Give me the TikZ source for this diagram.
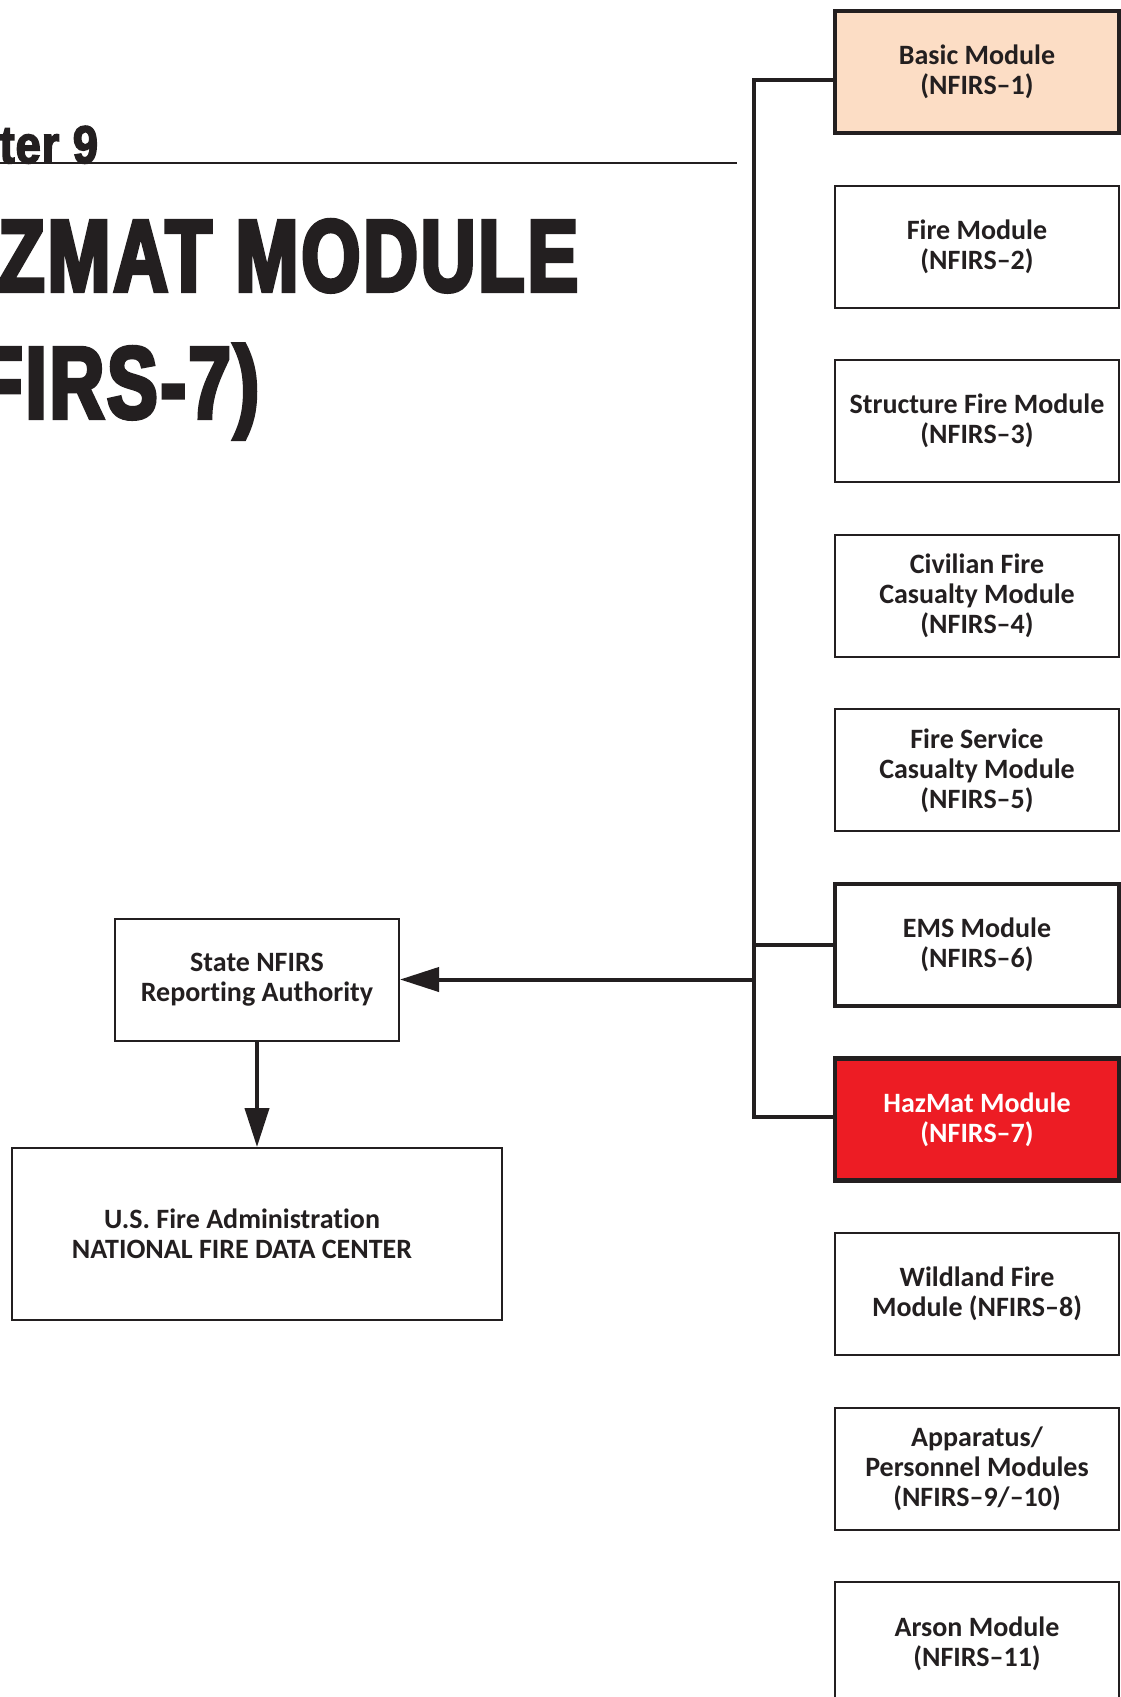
\documentclass[tikz,border=0pt]{standalone}
\usepackage{fontspec}
\usepackage{tikz}
\usetikzlibrary{arrows.meta}

\setmainfont[Ligatures={TeX,NoCommon}]{Carlito}
\newfontfamily\headfont[FakeStretch=0.74,FakeBold=4,LetterSpace=3]{Liberation Sans}
\newfontfamily\chapfont[FakeStretch=0.85,FakeBold=3,LetterSpace=2]{Liberation Sans}

\definecolor{ink}{HTML}{231F20}
\definecolor{peach}{HTML}{FCDDC5}
\definecolor{hazred}{HTML}{ED1C24}

\begin{document}
\begin{tikzpicture}[
            x = 1pt, y = -1pt, % page pixels, origin top left
            > = {Triangle[length=39pt,width=24pt]}, % arrow head style
            node distance = 174.6pt, % distance between module boxes
            line width = 4pt, % connector style
            color = ink
        ]

        \tikzstyle{module}=[
            draw = ink,
            line width = 2pt,
            fill = white,
            text = ink,
            minimum width = 284pt,
            minimum height = 122pt,
            inner sep = 0pt,
            align = center,
            font = \fontsize{28}{30}\selectfont\bfseries
        ]
        \tikzstyle{heavy}=[module, line width = 4.5pt]
        \tikzstyle{title}=[inner sep = 0pt, anchor = base east, text = ink]

        \useasboundingbox (0,0) rectangle (1121,1697);
        \clip (0,0) rectangle (1121,1697);
        \fill[white] (0,0) rectangle (1121,1697);

        % heading
        \node[title, font = \chapfont\bfseries\fontsize{53}{53}\selectfont] (chapter) at (100,163) {Chapter 9};
        \draw[line width = 2.5pt] (0,163) -- (737,163);
        \node[title, font = \headfont\bfseries\fontsize{102}{102}\selectfont] (heading) at (580,291) {HAZMAT MODULE};
        \node[title, font = \headfont\bfseries\fontsize{102}{102}\selectfont] (subheading) at (261,418) {(NFIRS-7)};

        % modules
        \node[heavy, fill = peach] (basic) at (977,72) {Basic Module\\(NFIRS–1)};
        \node[module] (fire) [below of=basic] {Fire Module\\(NFIRS–2)};
        \node[module] (structure) [below of=fire] {Structure Fire Module\\(NFIRS–3)};
        \node[module] (civilian) [below of=structure] {Civilian Fire\\Casualty Module\\(NFIRS–4)};
        \node[module] (service) [below of=civilian] {Fire Service\\Casualty Module\\(NFIRS–5)};
        \node[heavy] (ems) [below of=service] {EMS Module\\(NFIRS–6)};
        \node[heavy, fill = hazred, text = white] (hazmat) [below of=ems] {HazMat Module\\(NFIRS–7)};
        \node[module] (wildland) [below of=hazmat] {Wildland Fire\\Module (NFIRS–8)};
        \node[module] (apparatus) [below of=wildland] {Apparatus/\\Personnel Modules\\(NFIRS–9/–10)};
        \node[module] (arson) [below of=apparatus] {Arson Module\\(NFIRS–11)};

        % reporting chain
        \node[module] (state) at (257,979.5) {State NFIRS\\Reporting Authority};
        \node[module, minimum width = 490pt, minimum height = 172pt] (usfa) at (257,1234) {};
        \node[font = \fontsize{28}{30}\selectfont\bfseries, align = center, text = ink] (usfa text)
            at ([xshift = -15pt]usfa.center) {U.S. Fire Administration\\NATIONAL FIRE DATA CENTER};

        \coordinate (bus top) at (754,80);
        \coordinate (bus bottom) at (754,1117);

        \draw (basic.west |- bus top) -- (bus top) -- (bus bottom) -- (hazmat.west |- bus bottom);
        \draw (bus top |- ems.west) -- (ems.west);
        \draw[->] (bus top |- state.east) -- (state.east);
        \draw[->] (state.south) -- (usfa.north);

\end{tikzpicture}
\end{document}
